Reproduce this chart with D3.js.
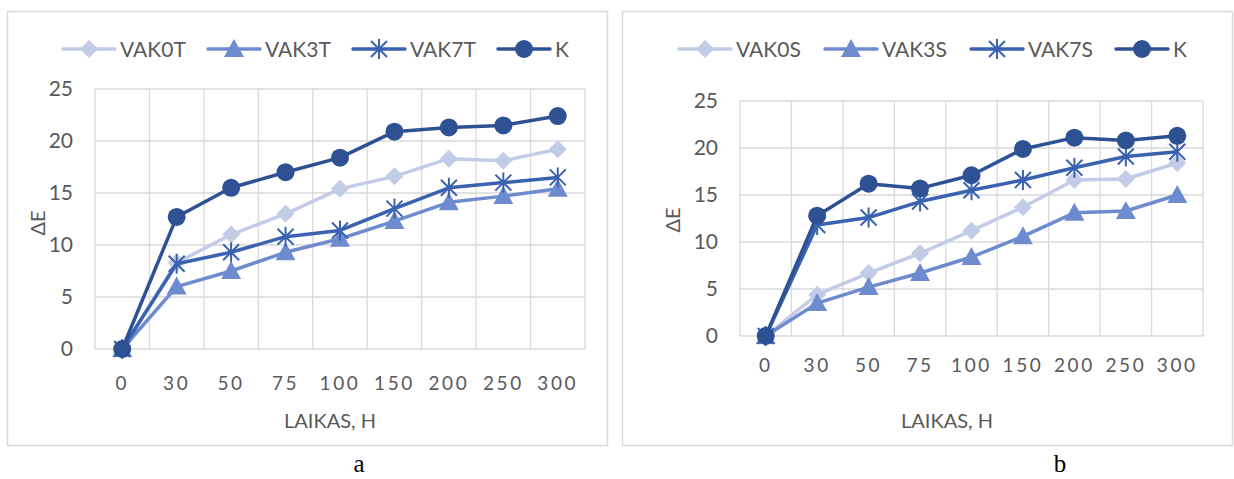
<!DOCTYPE html>
<html>
<head>
<meta charset="utf-8">
<script src="https://cdn.jsdelivr.net/npm/d3@7"></script>
<style>
  body { margin: 0; background: #fff; }
  svg { display: block; }
  text { font-family: Lato, "Open Sans", sans-serif; fill: #595959; }
</style>
</head>
<body>
<svg id="fig" width="1234" height="479"></svg>
<script>
// categories (time, h)
var hours = ['0', '30', '50', '75', '100', '150', '200', '250', '300'];
var yTicks = [0, 5, 10, 15, 20, 25];

// chart a
var vak0t = [0, 8.3, 11.0, 13.0, 15.4, 16.6, 18.3, 18.1, 19.2];
var vak3t = [0, 6.0, 7.5, 9.3, 10.6, 12.3, 14.1, 14.7, 15.4];
var vak7t = [0, 8.2, 9.3, 10.8, 11.4, 13.5, 15.5, 16.0, 16.5];
var kA    = [0, 12.7, 15.5, 17.0, 18.4, 20.9, 21.3, 21.5, 22.4];

// chart b
var vak0s = [0, 4.4, 6.7, 8.8, 11.2, 13.7, 16.6, 16.7, 18.4];
var vak3s = [0, 3.5, 5.2, 6.7, 8.4, 10.6, 13.1, 13.3, 15.0];
var vak7s = [0, 11.8, 12.6, 14.3, 15.5, 16.6, 17.9, 19.1, 19.6];
var kB    = [0, 12.8, 16.2, 15.7, 17.1, 19.9, 21.1, 20.8, 21.3];

var colors = { v0: '#c2cce6', v3: '#6e8bd0', v7: '#3a62b1', k: '#2e5193' };

var svg = d3.select('#fig');

function translation(x, y) {
  return 'translate(' + x + ',' + y + ')';
}

function marker(g, type, color) {
  if (type === 'diamond') {
    g.append('path').attr('d', 'M0,-9L9,0L0,9L-9,0Z').attr('fill', color);
  } else if (type === 'triangle') {
    g.append('path').attr('d', 'M0,-10L10,8L-10,8Z').attr('fill', color);
  } else if (type === 'star') {
    g.append('path')
      .attr('d', 'M-8,-8L8,8M-8,8L8,-8M0,-10L0,10')
      .attr('stroke', color).attr('stroke-width', 2).attr('fill', 'none');
  } else {
    g.append('circle').attr('r', 9).attr('fill', color);
  }
}

function drawChart(c) {
  // outer frame
  svg.append('rect')
    .attr('x', c.frame[0] + 0.5).attr('y', 11.5)
    .attr('width', c.frame[1] - c.frame[0]).attr('height', 434)
    .attr('fill', '#fff').attr('stroke', '#d9d9d9').attr('stroke-width', 1.5);

  var x = d3.scaleBand().domain(hours).range([c.left, c.right]);
  var y = d3.scaleLinear().domain([0, 25]).range([c.bottom, c.top]);

  var g = svg.append('g');

  // grid
  g.selectAll('.hgrid').data(yTicks).enter().append('line')
    .attr('x1', c.left).attr('x2', c.right)
    .attr('y1', function(d) { return y(d); }).attr('y2', function(d) { return y(d); })
    .attr('stroke', '#d9d9d9').attr('stroke-width', 1.3);
  var bounds = hours.map(function(h) { return x(h); }).concat([c.right]);
  g.selectAll('.vgrid').data(bounds).enter().append('line')
    .attr('x1', function(d) { return d; }).attr('x2', function(d) { return d; })
    .attr('y1', y(0)).attr('y2', y(25))
    .attr('stroke', '#d9d9d9').attr('stroke-width', 1.3);

  // y axis labels
  var yAxis = d3.axisLeft(y).tickValues(yTicks).tickSize(0).tickPadding(0);
  var ya = g.append('g').attr('transform', translation(c.yLabelX, 0)).call(yAxis);
  ya.select('.domain').remove();
  ya.selectAll('text').attr('font-size', 21).attr('fill', '#595959')
    .style('font-family', 'Lato, sans-serif');

  // x axis labels
  var xAxis = d3.axisBottom(x).tickSize(0).tickPadding(0);
  var xa = g.append('g').attr('transform', translation(0, c.xLabelY)).call(xAxis);
  xa.select('.domain').remove();
  xa.selectAll('text').attr('font-size', 19).attr('fill', '#595959')
    .attr('dy', 0).style('letter-spacing', '2.6px')
    .style('font-family', 'Lato, sans-serif');

  // axis titles
  g.append('text').attr('x', c.xTitle[0]).attr('y', c.xTitle[1])
    .attr('text-anchor', 'middle').attr('font-size', 20).text('LAIKAS, H');
  g.append('text')
    .attr('transform', translation(c.yTitle[0], c.yTitle[1]) + ' rotate(-90)')
    .attr('text-anchor', 'middle').attr('font-size', 20).text('ΔE');

  var line = d3.line()
    .x(function(d, i) { return x(hours[i]) + x.bandwidth() / 2; })
    .y(function(d) { return y(d); });

  c.series.forEach(function(s) {
    g.append('path').datum(s.values).attr('d', line)
      .attr('fill', 'none').attr('stroke', s.color).attr('stroke-width', 3.5)
      .attr('stroke-linejoin', 'round');
    s.values.forEach(function(v, i) {
      var m = g.append('g').attr('transform',
        translation(x(hours[i]) + x.bandwidth() / 2, y(v)));
      marker(m, s.marker, s.color);
    });
  });

  // legend
  c.series.forEach(function(s, i) {
    var lx = c.legendX[i];
    var lg = g.append('g').attr('transform', translation(lx, 49));
    lg.append('line').attr('x1', 0).attr('x2', 52)
      .attr('stroke', s.color).attr('stroke-width', 3.5).attr('stroke-linecap', 'round');
    var m = lg.append('g').attr('transform', translation(26, 0));
    marker(m, s.marker, s.color);
    lg.append('text').attr('x', 57).attr('y', 7.5).attr('font-size', 21).text(s.name);
  });

  // caption
  svg.append('text').attr('x', c.caption[0]).attr('y', c.caption[1])
    .attr('text-anchor', 'middle').attr('font-size', 25)
    .style('font-family', '"Liberation Serif", serif').style('fill', '#000')
    .text(c.captionText);
}

drawChart({
  frame: [7, 607],
  left: 95, right: 585, top: 89, bottom: 349,
  yLabelX: 73, xLabelY: 390,
  xTitle: [330, 428], yTitle: [45, 223],
  legendX: [63, 208, 353, 498],
  caption: [359, 472], captionText: 'a',
  series: [
    { name: 'VAK0T', values: vak0t, color: colors.v0, marker: 'diamond' },
    { name: 'VAK3T', values: vak3t, color: colors.v3, marker: 'triangle' },
    { name: 'VAK7T', values: vak7t, color: colors.v7, marker: 'star' },
    { name: 'K', values: kA, color: colors.k, marker: 'circle' }
  ]
});

drawChart({
  frame: [622, 1232],
  left: 740, right: 1203, top: 101, bottom: 336,
  yLabelX: 718, xLabelY: 372,
  xTitle: [947, 428], yTitle: [680, 220],
  legendX: [679, 825, 971, 1116],
  caption: [1060, 472], captionText: 'b',
  series: [
    { name: 'VAK0S', values: vak0s, color: colors.v0, marker: 'diamond' },
    { name: 'VAK3S', values: vak3s, color: colors.v3, marker: 'triangle' },
    { name: 'VAK7S', values: vak7s, color: colors.v7, marker: 'star' },
    { name: 'K', values: kB, color: colors.k, marker: 'circle' }
  ]
});
</script>
</body>
</html>
